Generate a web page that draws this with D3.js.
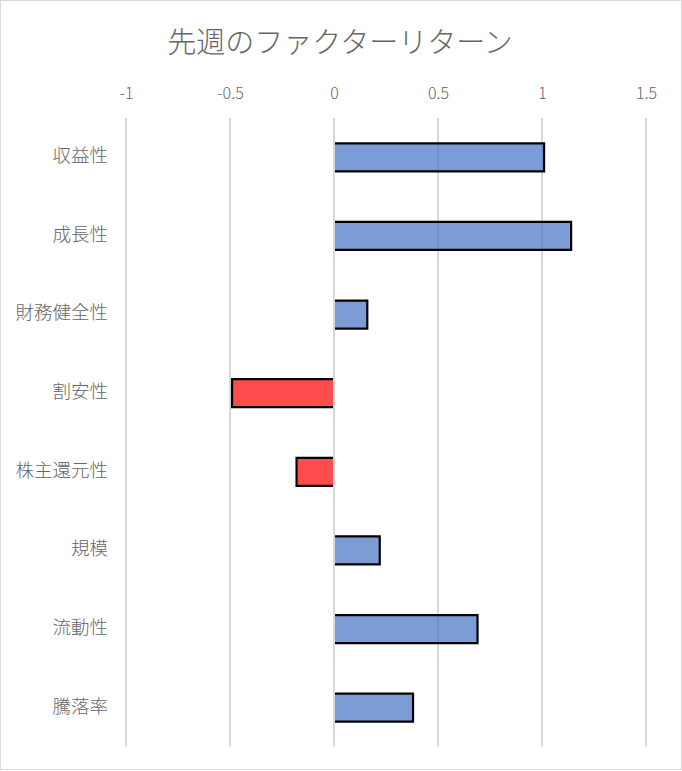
<!DOCTYPE html>
<html><head><meta charset="utf-8">
<script src="https://cdn.jsdelivr.net/npm/d3@7"></script>
<style>
html,body{margin:0;padding:0;background:#fff;}
text{font-family:"Noto Sans CJK JP","Noto Sans",sans-serif;font-weight:300;}
</style></head>
<body>
<svg id="c" width="682" height="771"></svg>
<script>
const title = "先週のファクターリターン";
const categories = ["収益性","成長性","財務健全性","割安性","株主還元性","規模","流動性","騰落率"];
const values = [1.01, 1.14, 0.16, -0.49, -0.18, 0.22, 0.69, 0.38];
const tickValues = [-1, -0.5, 0, 0.5, 1, 1.5];

const svg = d3.select("#c");
const W = 682, H = 771;
const FONT = "'Noto Sans CJK JP','Noto Sans',sans-serif";
svg.append("rect").attr("x",0.5).attr("y",0.5).attr("width",W-1).attr("height",H-2)
  .attr("fill","#fff").attr("stroke","#d9d9d9").attr("stroke-width",1);

const x = d3.scaleLinear().domain([-1,1.5]).range([126,646]);
const y = d3.scaleBand().domain(categories).range([118,747]).paddingInner(0.644).paddingOuter(0.322);

svg.append("text").attr("x",340).attr("y",40).attr("text-anchor","middle")
  .attr("dominant-baseline","central").attr("font-size",29).attr("fill","#666666").text(title);

// gridlines
svg.append("g").selectAll("line").data(tickValues).join("line")
  .attr("x1",d=>x(d)).attr("x2",d=>x(d)).attr("y1",118).attr("y2",747)
  .attr("stroke","#d9d9d9").attr("stroke-width",2);

// top axis labels
const ax = svg.append("g").attr("transform","translate(0,99)")
  .call(d3.axisTop(x).tickValues(tickValues).tickSize(0).tickPadding(0).tickFormat(d=>String(d)));
ax.select(".domain").remove();
ax.selectAll("text").attr("font-size",16).attr("fill","#666666")
  .attr("font-family",FONT).attr("font-weight",300);

// category labels
const ay = svg.append("g").attr("transform","translate(108,-1)")
  .call(d3.axisLeft(y).tickSize(0).tickPadding(0));
ay.select(".domain").remove();
ay.selectAll("text").attr("font-size",18.5).attr("fill","#666666")
  .attr("font-family",FONT).attr("font-weight",300);

const data = categories.map((c,i)=>({c, v: values[i]}));
const bars = svg.append("g");
bars.selectAll("rect").data(data).join("rect")
  .attr("x",d=>d.v>=0 ? x(0)+1 : x(d.v))
  .attr("y",d=>y(d.c))
  .attr("width",d=>Math.abs(x(d.v)-x(0))-1)
  .attr("height",y.bandwidth())
  .attr("fill",d=>d.v>=0 ? "#4472c4" : "#ff0000")
  .attr("fill-opacity",0.7);

bars.selectAll("path").data(data).join("path")
  .attr("d",d=>{
    const z = d.v>=0 ? x(0)+1 : x(0)-1;
    const e = x(d.v), t = y(d.c), b = y(d.c)+y.bandwidth();
    return `M${z},${t}L${e},${t}L${e},${b}L${z},${b}`;
  })
  .attr("fill","none").attr("stroke","#000").attr("stroke-width",2.2);
</script>
</body></html>
